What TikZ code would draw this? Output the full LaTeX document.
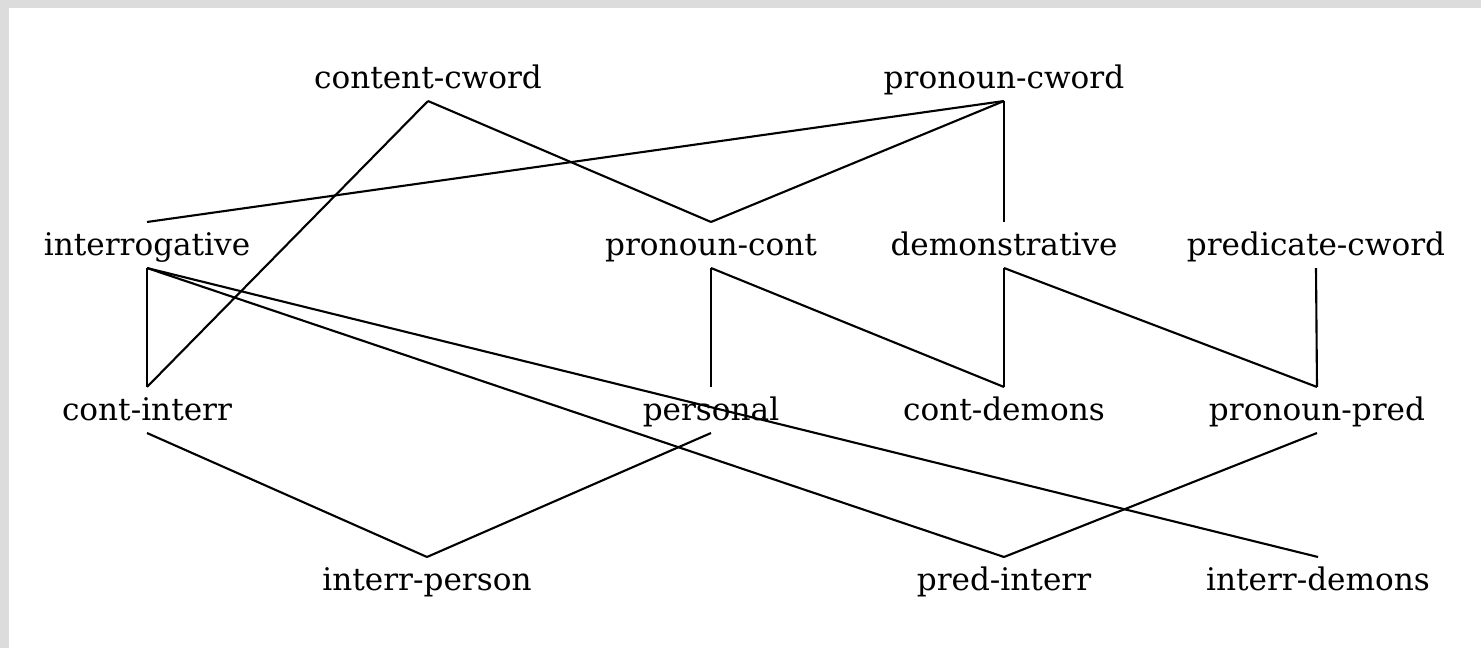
\documentclass[tikz,border=0pt]{standalone}
\usepackage{fontspec}
\setmainfont{DejaVu Serif}
\definecolor{frame}{RGB}{220,220,220}
\begin{document}
\begin{tikzpicture}[x=0.01cm,y=-0.01cm,
  lbl/.style={anchor=base,inner xsep=0pt,inner ysep=0.1cm,outer sep=0pt,
    text height=0.23cm,text depth=0.03cm,font=\fontsize{8.85}{10}\selectfont},
  link/.style={line width=0.6pt}]
\useasboundingbox (0,0) rectangle (1481,648);
\fill[frame] (0,0) rectangle (1481,8);
\fill[frame] (0,0) rectangle (9,648);
% row 1
\node[lbl] (cc) at (428,88) {content-cword};
\node[lbl] (pc) at (1004,88) {pronoun-cword};
% row 2
\node[lbl] (int) at (147,255) {interrogative};
\node[lbl] (pco) at (711,255) {pronoun-cont};
\node[lbl] (dem) at (1004,255) {demonstrative};
\node[lbl] (prc) at (1316,255) {predicate-cword};
% row 3
\node[lbl] (ci) at (147,420) {cont-interr};
\node[lbl] (per) at (711,420) {personal};
\node[lbl] (cd) at (1004,420) {cont-demons};
\node[lbl] (pp) at (1317,420) {pronoun-pred};
% row 4
\node[lbl] (ip) at (427,590) {interr-person};
\node[lbl] (pi) at (1004,590) {pred-interr};
\node[lbl] (id) at (1318,590) {interr-demons};
% connectors
\draw[link] (cc.south) -- (ci.north);
\draw[link] (cc.south) -- (pco.north);
\draw[link] (pc.south) -- (int.north);
\draw[link] (pc.south) -- (pco.north);
\draw[link] (pc.south) -- (dem.north);
\draw[link] (int.south) -- (ci.north);
\draw[link] (int.south) -- (pi.north);
\draw[link] (int.south) -- (id.north);
\draw[link] (pco.south) -- (per.north);
\draw[link] (pco.south) -- (cd.north);
\draw[link] (dem.south) -- (cd.north);
\draw[link] (dem.south) -- (pp.north);
\draw[link] (prc.south) -- (pp.north);
\draw[link] (ci.south) -- (ip.north);
\draw[link] (per.south) -- (ip.north);
\draw[link] (pp.south) -- (pi.north);
\end{tikzpicture}
\end{document}
